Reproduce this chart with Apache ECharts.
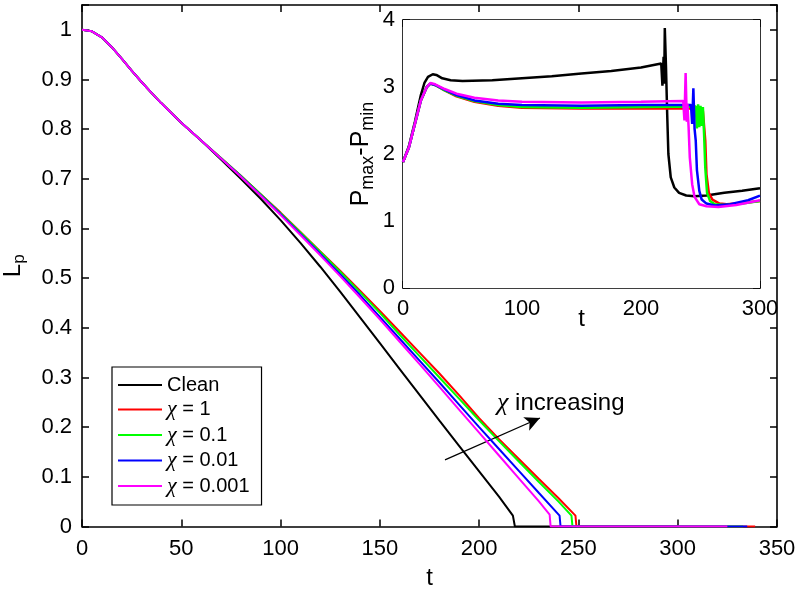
<!DOCTYPE html>
<html><head><meta charset="utf-8">
<script src="https://cdn.jsdelivr.net/npm/echarts/dist/echarts.min.js"></script>
<style>html,body{margin:0;padding:0;background:#fff}#c{width:800px;height:590px}</style>
</head><body><div id="c"></div>
<script>
// ---- Main plot: L_p vs t ----
const lpClean = [[0,1.0],[5,0.997],[10,0.985],[15,0.965],[20,0.942],[25,0.918],[30,0.895],[35,0.873],[40,0.852],[50,0.813],[60,0.777],[70,0.739],[80,0.700],[90,0.660],[100,0.617],[110,0.571],[120,0.523],[130,0.473],[140,0.421],[150,0.369],[160,0.317],[170,0.265],[180,0.213],[190,0.162],[200,0.111],[210,0.060],[217,0.022],[218,0],[300,0]];
const lpChi1 = [[0,1.0],[5,0.997],[10,0.985],[15,0.965],[20,0.942],[25,0.918],[30,0.895],[35,0.873],[40,0.852],[50,0.813],[60,0.777],[70,0.742],[80,0.706],[90,0.669],[100,0.632],[110,0.593],[120,0.554],[130,0.515],[140,0.475],[150,0.434],[160,0.392],[170,0.350],[180,0.308],[190,0.264],[200,0.218],[210,0.176],[220,0.136],[230,0.096],[240,0.057],[248.5,0.022],[249,0],[339,0]];
const lpChi01 = [[0,1.0],[5,0.997],[10,0.985],[15,0.965],[20,0.942],[25,0.918],[30,0.895],[35,0.873],[40,0.852],[50,0.813],[60,0.777],[70,0.742],[80,0.706],[90,0.669],[100,0.631],[110,0.592],[120,0.553],[130,0.513],[140,0.472],[150,0.430],[160,0.386],[170,0.343],[180,0.300],[190,0.257],[200,0.214],[210,0.172],[220,0.131],[230,0.090],[240,0.050],[246.5,0.022],[247,0],[333,0]];
const lpChi001 = [[0,1.0],[5,0.997],[10,0.985],[15,0.965],[20,0.942],[25,0.918],[30,0.895],[35,0.873],[40,0.852],[50,0.813],[60,0.777],[70,0.741],[80,0.705],[90,0.667],[100,0.629],[110,0.589],[120,0.549],[130,0.508],[140,0.466],[150,0.422],[160,0.378],[170,0.334],[180,0.290],[190,0.245],[200,0.200],[210,0.156],[220,0.112],[230,0.068],[240.5,0.022],[241,0],[335,0]];
const lpChi0001 = [[0,1.0],[5,0.997],[10,0.985],[15,0.965],[20,0.942],[25,0.918],[30,0.895],[35,0.873],[40,0.852],[50,0.813],[60,0.777],[70,0.741],[80,0.704],[90,0.666],[100,0.627],[110,0.587],[120,0.546],[130,0.504],[140,0.461],[150,0.417],[160,0.372],[170,0.327],[180,0.281],[190,0.235],[200,0.189],[210,0.143],[220,0.097],[230,0.051],[235.5,0.024],[236,0],[325,0]];

// ---- Inset: Pmax - Pmin vs t ----
const dpClean = [[0,1.88],[5,2.12],[10,2.48],[15,2.88],[18,3.06],[21,3.15],[25,3.19],[28,3.18],[33,3.13],[40,3.10],[50,3.09],[75,3.10],[100,3.13],[125,3.16],[150,3.20],[175,3.24],[200,3.29],[217,3.35],[218,3.02],[219,3.45],[219.5,3.05],[220,3.88],[221,3.3],[222,2.6],[223,2.0],[225,1.65],[228,1.50],[232,1.42],[238,1.38],[245,1.37],[255,1.38],[270,1.42],[285,1.45],[300,1.49]];
const dpChi1 = [[0,1.88],[5,2.1],[10,2.45],[15,2.8],[20,3.0],[23,3.05],[27,3.03],[35,2.95],[45,2.86],[60,2.78],[80,2.72],[100,2.69],[150,2.68],[200,2.68],[240,2.68],[251,2.68],[252,2.64],[253,2.66],[254,2.2],[255,1.7],[257,1.42],[260,1.32],[266,1.26],[272,1.25],[285,1.27],[300,1.30]];
const dpChi01 = [[0,1.88],[5,2.1],[10,2.45],[15,2.8],[20,3.0],[23,3.05],[27,3.03],[35,2.95],[45,2.87],[60,2.79],[80,2.73],[100,2.70],[150,2.69],[200,2.70],[246,2.71],[247,2.38],[248,2.74],[249,2.40],[250,2.72],[251,2.42],[252,2.70],[253,2.3],[254,1.8],[255.5,1.42],[258,1.30],[262,1.25],[270,1.24],[285,1.26],[300,1.30]];
const dpChi001 = [[0,1.88],[5,2.1],[10,2.45],[15,2.8],[20,3.0],[23,3.05],[27,3.03],[35,2.96],[45,2.88],[60,2.80],[80,2.75],[100,2.73],[150,2.72],[200,2.73],[242,2.73],[243,2.45],[244,2.98],[245,2.38],[246,2.2],[247,1.76],[249,1.45],[251,1.32],[255,1.26],[262,1.23],[275,1.25],[290,1.31],[300,1.38]];
const dpChi0001 = [[0,1.88],[5,2.1],[10,2.45],[15,2.8],[20,3.0],[23,3.06],[27,3.04],[35,2.97],[45,2.90],[60,2.84],[80,2.80],[100,2.78],[150,2.77],[200,2.78],[235.5,2.79],[236.5,2.5],[237.5,3.21],[238.5,2.48],[239,2.75],[240,2.4],[241,1.95],[243,1.55],[245,1.36],[249,1.25],[255,1.22],[265,1.21],[280,1.24],[300,1.31]];

const seriesNames = ['Clean', 'χ = 1', 'χ = 0.1', 'χ = 0.01', 'χ = 0.001'];
const seriesColors = ['#000000', '#ff0000', '#00ff00', '#0000ff', '#ff00ff'];
const mainData = [lpClean, lpChi1, lpChi01, lpChi001, lpChi0001];
const insetData = [dpClean, dpChi1, dpChi01, dpChi001, dpChi0001];

const FONT = 'Liberation Sans';
const axLine = {show: true, onZero: false, lineStyle: {color: '#000', width: 1.6}};
const tickIn = {show: true, inside: true, length: 7, lineStyle: {color: '#000', width: 1.5}};
const lbl = {fontFamily: FONT, fontSize: 22, color: '#000'};

function valAxis(extra) {
  return Object.assign({type: 'value', axisLine: axLine, axisTick: tickIn, splitLine: {show: false}, nameMoveOverlap: false}, extra);
}

const series = [];
mainData.forEach((d, i) => {
  const s = {
    name: seriesNames[i], type: 'line', xAxisIndex: 0, yAxisIndex: 0, data: d,
    symbol: 'none', showSymbol: false, animation: false,
    lineStyle: {color: seriesColors[i], width: 2}, itemStyle: {color: seriesColors[i]}, z: 2 + i
  };
  if (i === 0) {
    s.markLine = {
      silent: true, symbol: ['none', 'arrow'], symbolSize: [11, 15], animation: false,
      lineStyle: {color: '#000', width: 1.3, type: 'solid'}, label: {show: false},
      data: [[{coord: [182.8, 0.134]}, {coord: [230.6, 0.2185]}]]
    };
  }
  series.push(s);
});
insetData.forEach((d, i) => {
  series.push({
    name: 'inset ' + seriesNames[i], type: 'line', xAxisIndex: 2, yAxisIndex: 2, data: d,
    symbol: 'none', showSymbol: false, animation: false,
    lineStyle: {color: seriesColors[i], width: 2.5}, itemStyle: {color: seriesColors[i]}, z: 10 + i
  });
});

const option = {
  animation: false,
  backgroundColor: '#fff',
  grid: [
    {left: 82, top: 5, width: 695, height: 521.5, outerBoundsMode: 'none', containLabel: false},
    {left: 403, top: 20, width: 357, height: 268, show: true, backgroundColor: '#fff', borderWidth: 0, z: 5, outerBoundsMode: 'none', containLabel: false}
  ],
  xAxis: [
    valAxis({gridIndex: 0, min: 0, max: 350, interval: 50, position: 'bottom',
      axisLabel: Object.assign({margin: 11}, lbl),
      name: 't', nameLocation: 'middle', nameGap: 40,
      nameTextStyle: {fontFamily: FONT, fontSize: 24, color: '#000'}}),
    valAxis({gridIndex: 0, min: 0, max: 350, interval: 50, position: 'top', axisLabel: {show: false}}),
    valAxis({gridIndex: 1, min: 0, max: 300, interval: 100, position: 'bottom',
      axisLabel: Object.assign({margin: 10}, lbl),
      name: 't', nameLocation: 'middle', nameGap: 19,
      nameTextStyle: {fontFamily: FONT, fontSize: 24, color: '#000'}}),
    valAxis({gridIndex: 1, min: 0, max: 300, interval: 100, position: 'top', axisLabel: {show: false}})
  ],
  yAxis: [
    valAxis({gridIndex: 0, min: 0, max: 1.05, interval: 0.1, position: 'left',
      axisLabel: Object.assign({margin: 10, formatter: v => (v > 1.001 ? '' : String(Math.round(v * 10) / 10))}, lbl),
      name: '{a|L}{b|p}', nameLocation: 'middle', nameGap: 54,
      nameTextStyle: {fontFamily: FONT, fontSize: 24, color: '#000',
        rich: {a: {fontFamily: FONT, fontSize: 24, color: '#000'},
               b: {fontFamily: FONT, fontSize: 17, color: '#000', padding: [12, 0, 0, 0]}}}}),
    valAxis({gridIndex: 0, min: 0, max: 1.05, interval: 0.1, position: 'right', axisLabel: {show: false}}),
    valAxis({gridIndex: 1, min: 0, max: 4, interval: 1, position: 'left',
      axisLabel: Object.assign({margin: 8}, lbl),
      name: '{a|P}{b|max}{a|-P}{b|min}', nameLocation: 'middle', nameGap: 26,
      nameTextStyle: {fontFamily: FONT, fontSize: 25, color: '#000',
        rich: {a: {fontFamily: FONT, fontSize: 25, color: '#000'},
               b: {fontFamily: FONT, fontSize: 18, color: '#000', padding: [13, 0, 0, 0]}}}}),
    valAxis({gridIndex: 1, min: 0, max: 4, interval: 1, position: 'right', axisLabel: {show: false}})
  ],
  legend: {
    data: seriesNames, orient: 'vertical', left: 112, top: 367,
    padding: [8, 12, 8, 6], itemGap: 3.5, itemWidth: 44, itemHeight: 2, icon: 'rect',
    backgroundColor: '#fff', borderColor: '#000', borderWidth: 1.2, borderRadius: 0,
    selectedMode: false, z: 20,
    textStyle: {fontFamily: FONT, fontSize: 20, color: '#000', lineHeight: 20,
      rich: {chi: {fontFamily: 'Liberation Serif', fontStyle: 'italic', fontSize: 22, color: '#000', lineHeight: 20},
             t: {fontFamily: FONT, fontSize: 20, color: '#000', lineHeight: 20}}},
    formatter: n => (n.charAt(0) === 'χ' ? '{chi|χ}{t|' + n.slice(1) + '}' : n)
  },
  graphic: [{
    type: 'text', left: 497, top: 390, z: 30,
    style: {text: '{chi|χ}{t| increasing}', fill: '#000',
      rich: {chi: {fontFamily: 'Liberation Serif', fontStyle: 'italic', fontSize: 26, fill: '#000'},
             t: {fontFamily: FONT, fontSize: 24, fill: '#000'}}}
  }],
  series: series
};

const chart = echarts.init(document.getElementById('c'), null, {renderer: 'canvas'});
chart.setOption(option);
</script></body></html>
